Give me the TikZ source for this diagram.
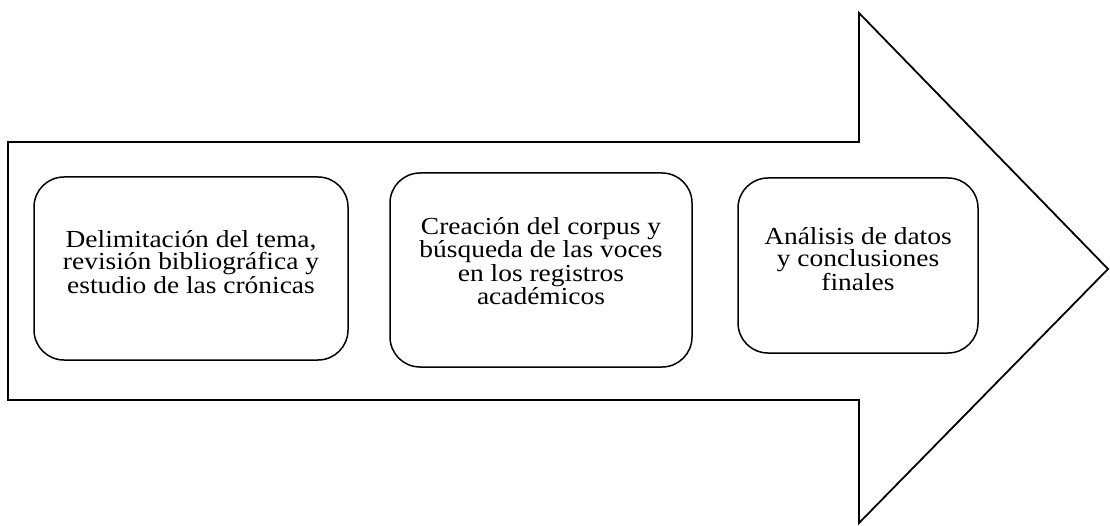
\documentclass[tikz,border=0pt]{standalone}
\usepackage{fontspec}
\setmainfont{Liberation Serif}[FakeStretch=1.12]
\usepackage{tikz}
\usetikzlibrary{shapes}
\usetikzlibrary{calc}
\tikzstyle{bigarrow} = [draw,line width=1.8pt,line join=miter]
\tikzstyle{phase}=[draw,line width=1.5pt,rounded corners=30pt,align=center,inner sep=0pt,text depth=13pt,font=\fontsize{24.5}{22}\selectfont]

\begin{document}
\begin{tikzpicture}[x=1pt,y=-1pt]
    \useasboundingbox (0,0) rectangle (1110,526);
    % Draw the big arrow behind the phases
    \path[bigarrow] (8,142) -- (859,142) -- (859,13) -- (1108,269) -- (859,523) -- (859,400) -- (8,400) -- cycle;

    % Then the three phases
    \node[phase,minimum width=314pt,minimum height=183pt] (tema) at (191,268.5)
        {Delimitación del tema,\\revisión bibliográfica y\\estudio de las crónicas};
    \node[phase,minimum width=302pt,minimum height=194pt,text depth=18pt] (corpus) at (541,270)
        {Creación del corpus y\\búsqueda de las voces\\en los registros\\académicos};
    \node[phase,minimum width=240pt,minimum height=175pt] (analisis) at (858,265.5)
        {Análisis de datos\\y conclusiones\\finales};
\end{tikzpicture}
\end{document}
